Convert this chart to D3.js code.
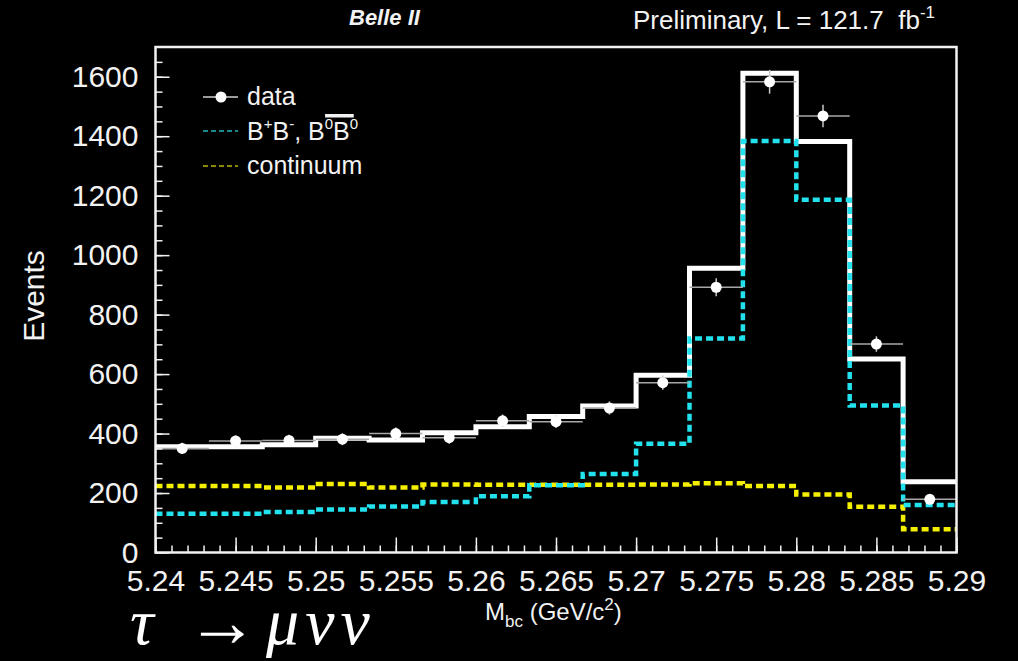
<!DOCTYPE html>
<html>
<head>
<meta charset="utf-8">
<script src="https://cdn.jsdelivr.net/npm/d3@7"></script>
<style>
body { margin: 0; background: #000; }
svg { display: block; }
</style>
</head>
<body>
<svg id="chart" width="1018" height="661"></svg>
<script>
// binning of M_bc
const binLow = 5.24, binHigh = 5.29, nBins = 15;

// per-bin contents
const dataCounts = [350, 375, 377, 381, 400, 386, 443, 440, 486, 571, 892, 1583, 1468, 701, 179];
const dataErrors = [19, 19, 19, 20, 20, 20, 21, 21, 22, 24, 30, 40, 38, 26, 13];
const totalMC    = [356, 356, 362, 384, 378, 403, 423, 457, 493, 596, 956, 1612, 1382, 651, 238];
const bbbar      = [130, 130, 136, 145, 155, 170, 189, 226, 264, 366, 720, 1384, 1186, 494, 160];
const continuum  = [224, 224, 219, 230, 219, 229, 228, 228, 228, 229, 233, 224, 195, 154, 78];

const xTicks = [5.24, 5.245, 5.25, 5.255, 5.26, 5.265, 5.27, 5.275, 5.28, 5.285, 5.29];
const yTicks = [0, 200, 400, 600, 800, 1000, 1200, 1400, 1600];

const svg = d3.select('#chart');
const frame = {left: 155.5, right: 956.5, top: 47, bottom: 552.5};
const font = 'Liberation Sans, Arial, Helvetica, sans-serif';
const fg = '#f2f2f2';

const x = d3.scaleLinear().domain([binLow, binHigh]).range([frame.left, frame.right]);
const y = d3.scaleLinear().domain([0, 1700]).range([frame.bottom, frame.top]);

const binW = (binHigh - binLow) / nBins;
const edges = d3.range(nBins + 1).map(i => binLow + i * binW);

// histogram as steps
const stepLine = d3.line()
    .x(d => x(d[0]))
    .y(d => y(d[1]))
    .curve(d3.curveStepAfter);
const stepPts = vals => edges.map((e, i) => [e, vals[Math.min(i, vals.length - 1)]]);

const plot = svg.append('g').attr('class', 'plot');

plot.append('path')
    .attr('d', stepLine(stepPts(totalMC)))
    .attr('fill', 'none')
    .attr('stroke', '#ffffff')
    .attr('stroke-width', 5);

plot.append('path')
    .attr('d', stepLine(stepPts(continuum)))
    .attr('fill', 'none')
    .attr('stroke', '#f5f000')
    .attr('stroke-width', 4.5)
    .attr('stroke-dasharray', '7,4');

plot.append('path')
    .attr('d', stepLine(stepPts(bbbar)))
    .attr('fill', 'none')
    .attr('stroke', '#22e2ee')
    .attr('stroke-width', 4.5)
    .attr('stroke-dasharray', '7,4');

// data points with error bars
plot.append('g').attr('class', 'points')
    .selectAll('g')
    .data(dataCounts)
    .enter()
    .append('g')
    .each(function(d, i) {
        let gg = d3.select(this);
        let cx = x(binLow + (i + 0.5) * binW);
        gg.append('line')
            .attr('x1', x(edges[i])).attr('x2', x(edges[i + 1]))
            .attr('y1', y(d)).attr('y2', y(d))
            .attr('stroke', '#a8a8a8').attr('stroke-width', 1.5);
        gg.append('line')
            .attr('x1', cx).attr('x2', cx)
            .attr('y1', y(d - dataErrors[i])).attr('y2', y(d + dataErrors[i]))
            .attr('stroke', '#c8c8c8').attr('stroke-width', 1.5);
        gg.append('circle')
            .attr('cx', cx).attr('cy', y(d)).attr('r', 5.5)
            .attr('fill', '#ffffff');
    });

// axes: ticks point inward
const xMinor = d3.range(0, 51).map(i => binLow + i * 0.001);
const yMinor = d3.range(0, 34).map(i => i * 50);

svg.append('g')
    .attr('transform', `translate(0,${frame.bottom})`)
    .call(d3.axisBottom(x).tickValues(xMinor).tickSize(-7).tickFormat(''))
    .call(g => g.select('.domain').remove());
svg.append('g')
    .attr('class', 'xaxis')
    .attr('transform', `translate(0,${frame.bottom})`)
    .call(d3.axisBottom(x).tickValues(xTicks).tickSize(-15).tickPadding(17).tickFormat(d3.format('')))
    .call(g => g.select('.domain').remove());

svg.append('g')
    .attr('transform', `translate(${frame.left},0)`)
    .call(d3.axisLeft(y).tickValues(yMinor).tickSize(-7).tickFormat(''))
    .call(g => g.select('.domain').remove());
svg.append('g')
    .attr('class', 'yaxis')
    .attr('transform', `translate(${frame.left},0)`)
    .call(d3.axisLeft(y).tickValues(yTicks).tickSize(-14).tickPadding(17).tickFormat(d3.format('d')))
    .call(g => g.select('.domain').remove());

svg.selectAll('.tick line').attr('stroke', fg).attr('stroke-width', 1.5);
svg.selectAll('.xaxis text, .yaxis text')
    .attr('fill', fg)
    .style('font-family', font)
    .style('font-size', '30px');

// frame
svg.append('rect')
    .attr('x', frame.left).attr('y', frame.top)
    .attr('width', frame.right - frame.left).attr('height', frame.bottom - frame.top)
    .attr('fill', 'none')
    .attr('stroke', fg)
    .attr('stroke-width', 2.5);

// axis titles
svg.append('text')
    .attr('transform', 'translate(44,296) rotate(-90)')
    .attr('text-anchor', 'middle')
    .attr('fill', fg)
    .style('font-family', font)
    .style('font-size', '30px')
    .text('Events');

const xt = svg.append('text')
    .attr('x', 485).attr('y', 620)
    .attr('fill', fg)
    .style('font-family', font)
    .style('font-size', '24px');
xt.append('tspan').text('M');
xt.append('tspan').attr('dy', 7).style('font-size', '17px').text('bc');
xt.append('tspan').attr('dy', -7).text('\u00a0(GeV/c');
xt.append('tspan').attr('dy', -10).style('font-size', '17px').text('2');
xt.append('tspan').attr('dy', 10).text(')');

// header texts
svg.append('text')
    .attr('x', 349).attr('y', 25)
    .attr('fill', fg)
    .style('font-family', font)
    .style('font-size', '22px')
    .style('font-weight', 'bold')
    .style('font-style', 'italic')
    .text('Belle II');

const pre = svg.append('text')
    .attr('x', 633).attr('y', 29)
    .attr('fill', fg)
    .style('font-family', font)
    .style('font-size', '26px');
pre.append('tspan').text('Preliminary, L = 121.7\u00a0\u00a0fb');
pre.append('tspan').attr('dy', -11).style('font-size', '17px').text('-1');

// legend
const legend = svg.append('g').attr('class', 'legend');
legend.append('line')
    .attr('x1', 203).attr('x2', 238).attr('y1', 97).attr('y2', 97)
    .attr('stroke', '#cfcfcf').attr('stroke-width', 1.5);
legend.append('circle').attr('cx', 221).attr('cy', 97).attr('r', 5.5).attr('fill', '#fff');
legend.append('line')
    .attr('x1', 203).attr('x2', 238).attr('y1', 131).attr('y2', 131)
    .attr('stroke', '#22b8b8').attr('stroke-width', 1.5).attr('stroke-dasharray', '5,3');
legend.append('line')
    .attr('x1', 203).attr('x2', 238).attr('y1', 166).attr('y2', 166)
    .attr('stroke', '#b8b800').attr('stroke-width', 1.5).attr('stroke-dasharray', '5,3');

const legText = (yy) => legend.append('text')
    .attr('x', 247).attr('y', yy)
    .attr('fill', fg)
    .style('font-family', font)
    .style('font-size', '25px');
legText(105).text('data');
legText(174).text('continuum');

// B+B-, B0 B0bar built piece by piece
let lx = 247;
const pieces = [
    ['B', 0, 25], ['+', -11, 15], ['B', 0, 25], ['-', -11, 15],
    [',\u00a0B', 0, 25], ['0', -11, 15], ['B', 0, 25, 'bar'], ['0', -11, 15]
];
pieces.forEach(p => {
    const t = legend.append('text')
        .attr('x', lx).attr('y', 140 + p[1])
        .attr('fill', fg)
        .style('font-family', font)
        .style('font-size', p[2] + 'px')
        .text(p[0]);
    const w = t.node().getComputedTextLength();
    if (p[3] === 'bar') {
        legend.append('rect')
            .attr('x', lx - 8).attr('y', 114)
            .attr('width', w + 12).attr('height', 3.5)
            .attr('fill', fg);
    }
    lx += w;
});

// decay label
const decFont = 'Liberation Serif, DejaVu Serif, serif';
const dec = svg.append('g').attr('class', 'decay')
    .attr('fill', '#ffffff')
    .style('font-family', decFont)
    .style('font-size', '66px');
dec.append('text').attr('x', 130).attr('y', 644).style('font-style', 'italic').text('τ');
dec.append('text').attr('x', 186).attr('y', 646).style('font-size', '72px').text('→');
dec.append('text').attr('x', 266).attr('y', 644)
    .style('font-style', 'italic')
    .style('letter-spacing', '6px')
    .text('μνν');
</script>
</body>
</html>
